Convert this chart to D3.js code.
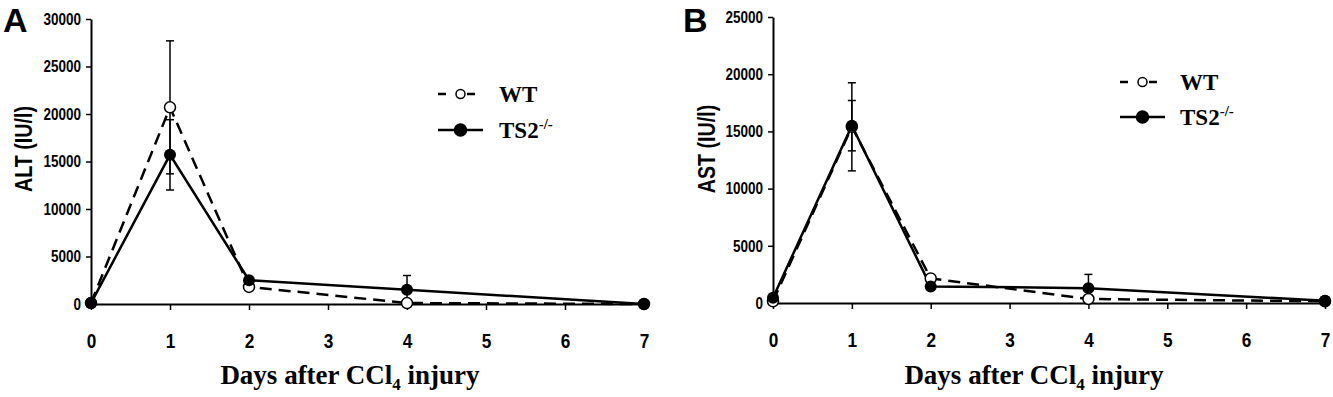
<!DOCTYPE html>
<html>

<head>
    <meta charset="utf-8">
    <script src="https://d3js.org/d3.v7.min.js"></script>
    <style>
        body { margin: 0; background: #fff; }
        .tick text { font-family: "Liberation Sans", Arial, sans-serif; font-weight: bold; fill: #000; }
        .serif { font-family: "Liberation Serif", "Times New Roman", serif; font-weight: bold; }
        .sans { font-family: "Liberation Sans", Arial, sans-serif; font-weight: bold; }
    </style>
</head>

<body>
    <svg id="chart" width="1333" height="397"></svg>
    <script>
        // sampling days
        const days = [0, 1, 2, 4, 7];
        const dayTicks = [0, 1, 2, 3, 4, 5, 6, 7];
        const seriesNames = ["WT", "TS2"];

        // ALT (IU/l)
        const altTicks = [0, 5000, 10000, 15000, 20000, 25000, 30000];
        const altWT = [100, 20700, 1800, 100, 0];
        const altWTErr = [0, 7000, 200, 100, 0];
        const altTS2 = [100, 15700, 2500, 1500, 0];
        const altTS2Err = [0, 3700, 300, 1500, 0];

        // AST (IU/l)
        const astTicks = [0, 5000, 10000, 15000, 20000, 25000];
        const astWT = [150, 15400, 2150, 350, 150];
        const astWTErr = [0, 3850, 200, 0, 0];
        const astTS2 = [450, 15500, 1450, 1300, 200];
        const astTS2Err = [0, 2200, 200, 1200, 0];

        const SQUEEZE = 0.82; // narrow look of the sans labels

        const svg = d3.select("#chart");

        const panels = [
            {
                letter: "A", ytitle: "ALT (IU/l)", ticks: altTicks,
                wt: altWT, wtErr: altWTErr, ts: altTS2, tsErr: altTS2Err,
                xr: [91, 644], yr: [304, 19], letterPos: [3, 32], ytPos: [32, 149],
                xtPos: 350, legend: { x1: 438, x2: 483, y: [94, 130], tx: 499 }
            },
            {
                letter: "B", ytitle: "AST (IU/l)", ticks: astTicks,
                wt: astWT, wtErr: astWTErr, ts: astTS2, tsErr: astTS2Err,
                xr: [773, 1325], yr: [303, 17], letterPos: [683, 32], ytPos: [715, 149],
                xtPos: 1034, legend: { x1: 1120, x2: 1165, y: [82, 117], tx: 1180 }
            }
        ];

        function drawPanel(p) {
            let g = svg.append("g");

            let x = d3.scaleLinear().domain([0, 7]).range(p.xr);
            let y = d3.scaleLinear().domain([0, d3.max(p.ticks)]).range(p.yr);

            // axes
            let xAxis = g.append("g")
                .attr("transform", "translate(0," + p.yr[0] + ")")
                .call(d3.axisBottom(x).tickValues(dayTicks).tickFormat(d3.format("d"))
                    .tickSize(6).tickPadding(23).tickSizeOuter(0));
            xAxis.selectAll("text").style("font-size", "21px")
                .attr("transform", "scale(" + SQUEEZE + ",1)");

            let yAxis = g.append("g")
                .attr("transform", "translate(" + p.xr[0] + ",0)")
                .call(d3.axisLeft(y).tickValues(p.ticks).tickFormat(d3.format("d"))
                    .tickSize(5).tickPadding(5).tickSizeOuter(0));
            yAxis.selectAll("text").style("font-size", "16.5px")
                .attr("x", -10 / SQUEEZE)
                .attr("transform", "scale(" + SQUEEZE + ",1)");

            g.selectAll(".domain").attr("stroke", "#000").attr("stroke-width", 2);
            g.selectAll(".tick line").attr("stroke", "#000").attr("stroke-width", 1.5);

            // titles
            g.append("text")
                .attr("class", "sans")
                .attr("x", p.letterPos[0])
                .attr("y", p.letterPos[1])
                .style("font-size", "34px")
                .text(p.letter);

            g.append("text")
                .attr("class", "sans")
                .attr("transform", "translate(" + p.ytPos[0] + "," + p.ytPos[1] + ") rotate(-90) scale(" + SQUEEZE + ",1)")
                .attr("text-anchor", "middle")
                .style("font-size", "24px")
                .text(p.ytitle);

            let xt = g.append("text")
                .attr("class", "serif")
                .attr("x", p.xtPos)
                .attr("y", 384)
                .attr("text-anchor", "middle")
                .style("font-size", "27px");
            xt.append("tspan").text("Days after CCl");
            xt.append("tspan").attr("dy", 6).style("font-size", "17px").text("4");
            xt.append("tspan").attr("dy", -6).text(" injury");

            let line = d3.line().x((d, i) => x(days[i])).y(d => y(d));

            // error bars
            function errBars(vals, errs) {
                vals.forEach((v, i) => {
                    if (!errs[i]) return;
                    let cx = x(days[i]);
                    let hi = y(v + errs[i]), lo = y(Math.max(0, v - errs[i]));
                    g.append("line").attr("x1", cx).attr("x2", cx).attr("y1", hi).attr("y2", lo)
                        .attr("stroke", "#000").attr("stroke-width", 1.5);
                    [hi, lo].forEach(yy => {
                        g.append("line").attr("x1", cx - 4).attr("x2", cx + 4).attr("y1", yy).attr("y2", yy)
                            .attr("stroke", "#000").attr("stroke-width", 1.5);
                    });
                });
            }
            errBars(p.wt, p.wtErr);
            errBars(p.ts, p.tsErr);

            // lines
            g.append("path").datum(p.ts)
                .attr("fill", "none").attr("stroke", "#000").attr("stroke-width", 2.5)
                .attr("d", line);
            g.append("path").datum(p.wt)
                .attr("fill", "none").attr("stroke", "#000").attr("stroke-width", 2.5)
                .attr("stroke-dasharray", "12,7")
                .attr("d", line);

            // markers
            g.selectAll(".wt").data(p.wt).enter().append("circle")
                .attr("cx", (d, i) => x(days[i])).attr("cy", d => y(d)).attr("r", 5.5)
                .attr("fill", "#fff").attr("stroke", "#000").attr("stroke-width", 1.5);
            g.selectAll(".ts").data(p.ts).enter().append("circle")
                .attr("cx", (d, i) => x(days[i])).attr("cy", d => y(d)).attr("r", 6)
                .attr("fill", "#000");

            // legend
            let L = p.legend;
            let lg = g.append("g");
            seriesNames.forEach((name, i) => {
                let ly = L.y[i];
                lg.append("line").attr("x1", L.x1).attr("x2", L.x2).attr("y1", ly).attr("y2", ly)
                    .attr("stroke", "#000").attr("stroke-width", 2.5)
                    .attr("stroke-dasharray", i == 0 ? "8,21,8" : null);
                lg.append("circle").attr("cx", (L.x1 + L.x2) / 2).attr("cy", ly).attr("r", i == 0 ? 4.5 : 6)
                    .attr("fill", i == 0 ? "#fff" : "#000").attr("stroke", "#000").attr("stroke-width", 1.5);
                let t = lg.append("text").attr("class", "serif")
                    .attr("x", L.tx).attr("y", ly + 8).style("font-size", "23px").text(name);
                if (i == 1) t.append("tspan").attr("dy", -9).style("font-size", "15px").text("-/-");
            });
        }

        panels.forEach(drawPanel);
    </script>
</body>

</html>
